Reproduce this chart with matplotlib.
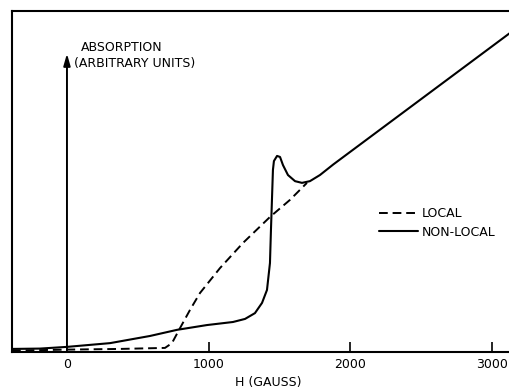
import matplotlib
matplotlib.use("Agg")
import matplotlib.pyplot as plt

plt.rcParams['font.family'] = ['DejaVu Sans']

# Non-local (solid) curve: H (gauss), absorption (arbitrary units, 0-100)
nonlocal_h = [-388, -191, 0, 304, 586, 777, 988, 1172, 1257, 1327, 1377, 1412,
              1433, 1440, 1447, 1454, 1461, 1483, 1504, 1525, 1560, 1610, 1659,
              1715, 1786, 1880, 3200]
nonlocal_y = [0.9, 1.0, 1.5, 2.6, 4.7, 6.5, 7.9, 8.8, 9.7, 11.4, 14.4, 18.2,
              26.1, 35.8, 44.6, 53.4, 56.0, 57.5, 57.2, 54.8, 51.9, 50.1, 49.6,
              50.1, 51.9, 55.0, 95.8]

# Local (dashed) curve
local_h = [-388, 0, 374, 692, 741, 798, 868, 939, 1080, 1243, 1433, 1574, 1694]
local_y = [0.4, 0.7, 0.9, 1.2, 2.6, 7.0, 12.3, 17.3, 24.6, 32.0, 39.6, 44.6, 49.6]

tick_vals = [0, 1000, 2000, 3000]
tick_labels = ['0', '1000', '2000', '3000']

W, H = 510, 389
fig = plt.figure(figsize=(W / 100, H / 100), dpi=100)
ax = fig.add_axes([12 / W, (H - 352) / H, (530 - 12) / W, (352 - 11) / H])
ax.set_xlim(-388, (530 - 67) / 0.14165)
ax.set_ylim(0, 100)

ax.plot(nonlocal_h, nonlocal_y, color='black', lw=1.5, label='NON-LOCAL',
        solid_capstyle='round', solid_joinstyle='round')
ax.plot(local_h, local_y, color='black', lw=1.4, linestyle=(0, (4.5, 2.5)),
        label='LOCAL')

for s in ax.spines.values():
    s.set_linewidth(1.5)

ax.set_xticks(tick_vals)
ax.set_xticklabels(tick_labels, fontsize=9)
ax.tick_params(axis='x', direction='in', length=7, width=1.2, pad=4.5)
ax.xaxis.get_major_ticks()[0].tick1line.set_visible(False)
ax.set_yticks([])

# vertical arrow
ax.annotate('', xy=(0, 87.5), xytext=(0, 0),
            arrowprops=dict(arrowstyle='-|>,head_length=0.7,head_width=0.2',
                            color='black', lw=1.4, shrinkA=0, shrinkB=0))
ax.text(97, 88.4, 'ABSORPTION', fontsize=9, va='baseline', ha='left')
ax.text(49, 83.7, '(ARBITRARY UNITS)', fontsize=9, va='baseline', ha='left')

fig.text(268 / W, 1 - 386 / H, 'H (GAUSS)', fontsize=9, ha='center', va='baseline')

handles, labels = ax.get_legend_handles_labels()
leg = ax.legend(handles[::-1], labels[::-1], loc='upper left',
                bbox_to_anchor=(379 / W, 1 - 207 / H), bbox_transform=fig.transFigure,
                frameon=False, fontsize=9, handlelength=3.1, handletextpad=0.3,
                labelspacing=0.45, borderpad=0, borderaxespad=0)

fig.savefig('out.png', dpi=100)
